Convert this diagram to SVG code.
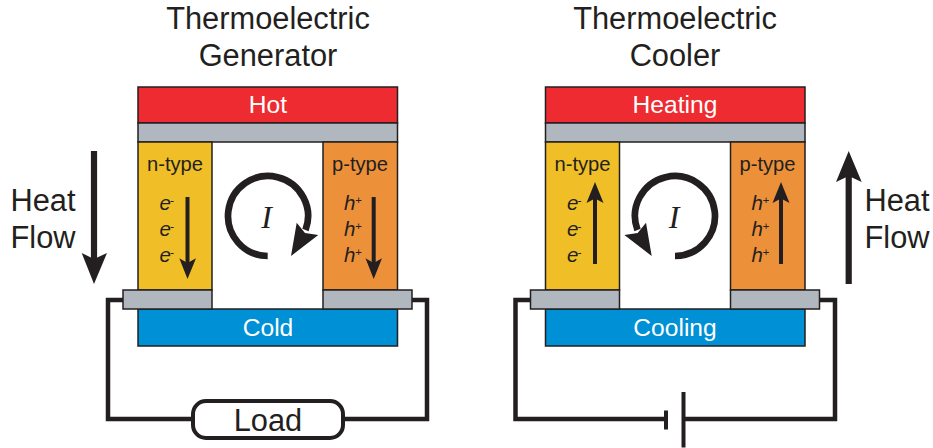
<svg xmlns="http://www.w3.org/2000/svg" width="933" height="448" viewBox="0 0 933 448">
<style>
text{font-family:"Liberation Sans",Arial,sans-serif;text-anchor:middle;fill:#231f20}
.t{font-size:30.8px}
.w{font-size:24.6px;fill:#fff}
.l{font-size:20.2px}
.c{font-size:20.5px;font-style:italic;text-anchor:start}
.s{font-size:11.500px;font-style:italic;text-anchor:start}
.i{font-family:"Liberation Serif",serif;font-size:32px;font-style:italic}
.b{stroke:#231f20;stroke-width:1.5}
.w1{fill:none;stroke:#231f20;stroke-width:4.5}
.a{fill:#231f20}
.ln{fill:none;stroke:#231f20;stroke-width:4}
.arc{fill:none;stroke:#231f20;stroke-width:6.700}
.hf{fill:none;stroke:#231f20;stroke-width:6.200}
</style>
<defs>
<g id="module">
<rect class="b" x="138" y="87" width="259.5" height="36" fill="#ee2b30"/>
<rect class="b" x="138" y="123" width="259.5" height="19" fill="#b0b7bf"/>
<rect class="b" x="138" y="142" width="74" height="148" fill="#f0bf27"/>
<rect class="b" x="323" y="142" width="74.5" height="148" fill="#ec913a"/>
<rect class="b" x="138" y="309" width="259.5" height="37" fill="#0090d6"/>
<rect class="b" x="123" y="290" width="89" height="19" fill="#b0b7bf"/>
<rect class="b" x="323" y="290" width="89" height="19" fill="#b0b7bf"/>
</g>
</defs>

<g id="connectors">
<path class="w1" d="M123 300H108V419H193"/>
<path class="w1" d="M412 300H427V419H343"/>
<path class="w1" d="M531 300H515.500V419H665"/>
<path class="w1" d="M819 300H835V419H684"/>
<path d="M666 410.500V429.500" fill="none" stroke="#231f20" stroke-width="4"/>
<path d="M683.500 392V447.500" fill="none" stroke="#231f20" stroke-width="4"/>
</g>

<g id="generator">
<text class="t" x="268" y="29">Thermoelectric</text>
<text class="t" x="268" y="66">Generator</text>
<use href="#module"/>
<text class="w" x="268" y="113">Hot</text>
<text class="w" x="268" y="336">Cold</text>
<text class="l" x="175" y="171">n-type</text>
<text class="l" x="360" y="171">p-type</text>
<text class="c" x="159.500" y="210">e</text><text class="s" x="170" y="204">-</text>
<text class="c" x="159.500" y="236">e</text><text class="s" x="170" y="230">-</text>
<text class="c" x="159.500" y="262">e</text><text class="s" x="170" y="256">-</text>
<text class="c" x="344" y="210">h</text><text class="s" x="355" y="204">+</text>
<text class="c" x="344" y="236">h</text><text class="s" x="355" y="230">+</text>
<text class="c" x="344" y="262">h</text><text class="s" x="355" y="256">+</text>
<path class="ln" d="M187.500 197V264"/><path class="a" d="M179.300 258.300L187.500 263L196 258.300L187.500 279Z"/>
<path class="ln" d="M373.700 197V264"/><path class="a" d="M365.500 258.300L373.700 263L382 258.300L373.700 279Z"/>
<path class="arc" d="M267.700 256A40 40 0 1 1 305.500 230"/>
<path class="a" d="M291 256L296.700 222.700L305 233L318.300 235Z"/>
<text class="i" x="266.700" y="228">I</text>
</g>

<g id="cooler">
<text class="t" x="675" y="29">Thermoelectric</text>
<text class="t" x="675" y="66">Cooler</text>
<use href="#module" x="407.500"/>
<text class="w" x="675" y="113">Heating</text>
<text class="w" x="675" y="336">Cooling</text>
<text class="l" x="582.500" y="171">n-type</text>
<text class="l" x="767.500" y="171">p-type</text>
<text class="c" x="567" y="210">e</text><text class="s" x="577.500" y="204">-</text>
<text class="c" x="567" y="236">e</text><text class="s" x="577.500" y="230">-</text>
<text class="c" x="567" y="262">e</text><text class="s" x="577.500" y="256">-</text>
<text class="c" x="751.500" y="210">h</text><text class="s" x="762.500" y="204">+</text>
<text class="c" x="751.500" y="236">h</text><text class="s" x="762.500" y="230">+</text>
<text class="c" x="751.500" y="262">h</text><text class="s" x="762.500" y="256">+</text>
<path class="ln" d="M595 264V197"/><path class="a" d="M586.500 203L595 198.500L603.500 203L595 182Z"/>
<path class="ln" d="M781 264V197"/><path class="a" d="M772.500 203L781 198.500L789.500 203L781 182Z"/>
<path class="arc" d="M675 256A40 40 0 1 0 637.500 230"/>
<path class="a" d="M651.700 256L646 222.700L637.700 233L624.400 235Z"/>
<text class="i" x="674" y="228">I</text>
</g>

<g id="heat-flow-left">
<text class="t" x="43" y="211">Heat</text>
<text class="t" x="43" y="248">Flow</text>
<path class="hf" d="M94 151V262"/><path class="a" d="M81.700 253L94 259L107 253L94 284Z"/>
</g>
<g id="heat-flow-right">
<text class="t" x="897" y="211">Heat</text>
<text class="t" x="897" y="248">Flow</text>
<path class="hf" d="M848.700 284V172"/><path class="a" d="M836 182L848.700 176L861.700 182L848.700 151Z"/>
</g>

<g id="load">
<rect x="193" y="401" width="150" height="37" rx="13" fill="#fff" stroke="#231f20" stroke-width="4"/>
<text class="t" x="268" y="431">Load</text>
</g>
</svg>
